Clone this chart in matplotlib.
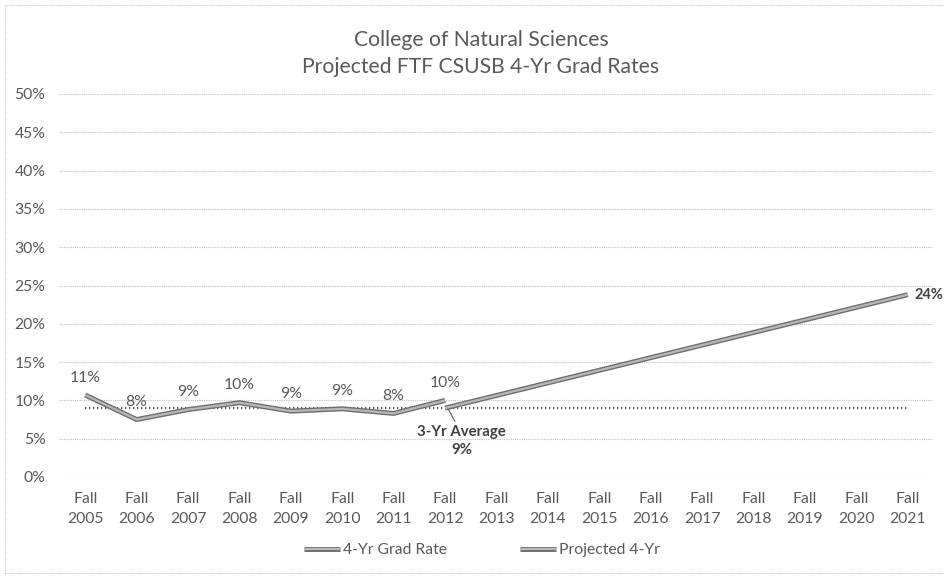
import matplotlib
matplotlib.use("Agg")
import matplotlib.pyplot as plt
import matplotlib.patheffects as pe
from matplotlib.patches import Rectangle
import numpy as np

plt.rcParams['font.family'] = ['Lato', 'DejaVu Sans']

# Data
years = ["Fall\n%d" % y for y in range(2005, 2022)]
actual_years_idx = list(range(0, 8))            # Fall 2005 - Fall 2012
grad_rate = [10.7, 7.5, 8.8, 9.7, 8.6, 8.9, 8.3, 10.0]
projected_idx = [7, 16]                          # Fall 2012 -> Fall 2021
projected = [9.0, 23.8]
three_yr_avg = 9.0
y_ticks = [0, 5, 10, 15, 20, 25, 30, 35, 40, 45, 50]

TEXT = '#595959'
GRID = '#bfbfbf'
FS = 11.3

fig = plt.figure(figsize=(9.45, 5.78), dpi=100)
ax = fig.add_axes([59.5 / 945, 1 - 477 / 578, (933.5 - 59.5) / 945, (477 - 94) / 578])

rope = [pe.Stroke(linewidth=3.6, foreground='#6f6f6f'), pe.Normal()]

# average reference line
x_all = np.arange(len(years))
ax.plot(x_all, [three_yr_avg] * len(x_all), color='#5a5a5a', lw=1.6,
        linestyle=(0, (0.6, 1.2)), zorder=3)

l1, = ax.plot(actual_years_idx, grad_rate, color='#b8b8b8', lw=1.6,
              path_effects=rope, solid_capstyle='butt', zorder=4,
              label='4-Yr Grad Rate')
l2, = ax.plot(projected_idx, projected, color='#b8b8b8', lw=1.6,
              path_effects=rope, solid_capstyle='butt', zorder=4,
              label='Projected 4-Yr')

# data labels
for xi, v in zip(actual_years_idx, grad_rate):
    ax.annotate(f"{round(v):d}%", (xi, v), xytext=(0, 7.5), textcoords='offset points',
                ha='center', va='bottom', fontsize=FS, color=TEXT)
ax.annotate(f"{round(projected[-1]):d}%", (projected_idx[-1], projected[-1]),
            xytext=(5, 0), textcoords='offset points', ha='left', va='center',
            fontsize=FS - 0.8, color='#404040', fontweight='bold', annotation_clip=False)

# 3-year average callout
ax.annotate(f"3-Yr Average\n{round(three_yr_avg):d}%", xy=(7.05, three_yr_avg),
            xytext=(7.32, 4.7), textcoords='data', ha='center', va='center',
            fontsize=FS - 0.5, color='#404040', fontweight='bold', linespacing=1.3,
            arrowprops=dict(arrowstyle='-', color='#595959', lw=0.8,
                            relpos=(0.45, 1.0), shrinkA=1, shrinkB=1))

ax.set_xlim(-0.5, len(years) - 0.5)
ax.set_ylim(0, 50)
ax.set_xticks(x_all)
ax.set_xticklabels(years, fontsize=FS, color=TEXT, linespacing=1.5)
ax.set_yticks(y_ticks)
ax.set_yticklabels([f"{t}%" for t in y_ticks], fontsize=FS, color=TEXT)
ax.tick_params(axis='both', length=0)
ax.tick_params(axis='x', pad=11)
ax.tick_params(axis='y', pad=10)
ax.grid(axis='y', color=GRID, linestyle=(0, (1, 1)), lw=0.8)
ax.set_axisbelow(True)
for s in ax.spines.values():
    s.set_visible(False)

fig.text(481 / 945, 1 - 40 / 578, "College of Natural Sciences", ha='center', va='center',
         fontsize=15.2, color=TEXT)
fig.text(481 / 945, 1 - 67 / 578, "Projected FTF CSUSB 4-Yr Grad Rates", ha='center',
         va='center', fontsize=15.2, color=TEXT)

fig.legend(handles=[l1, l2], loc='center', bbox_to_anchor=(482 / 945, 1 - 550 / 578),
           ncol=2, frameon=False, fontsize=FS, labelcolor=TEXT, handlelength=2.3,
           handletextpad=0.2, columnspacing=4.6)

# chart border
fig.patches.append(Rectangle((5 / 945, 1 - 573 / 578), 1.0, (568 / 578),
                             transform=fig.transFigure, fill=False, edgecolor='#c8c8c8',
                             lw=0.8, linestyle=(0, (1, 1))))

fig.savefig("out.png", dpi=100)
